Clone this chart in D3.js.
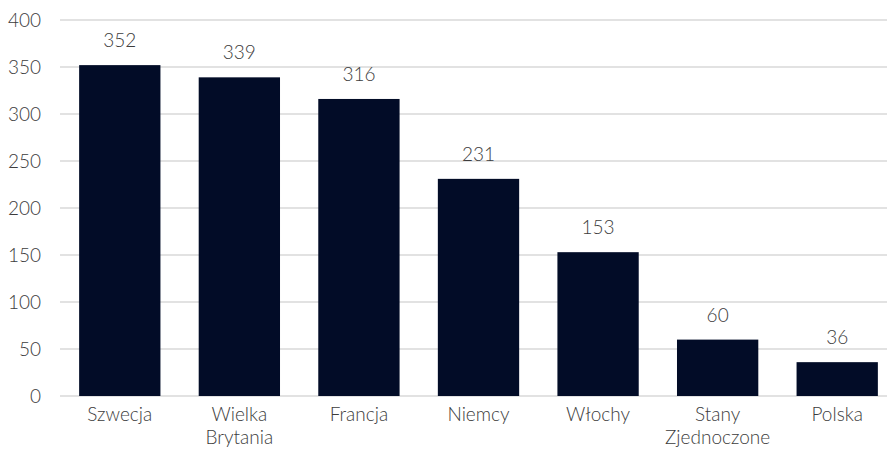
<!DOCTYPE html>
<html>
<head>
<meta charset="utf-8">
<script src="https://cdn.jsdelivr.net/npm/d3@7/dist/d3.min.js"></script>
<style>
  html, body { margin: 0; padding: 0; background: #ffffff; }
</style>
</head>
<body>
<svg id="chart" width="887" height="453"></svg>
<script>
const categories = ["Szwecja", "Wielka Brytania", "Francja", "Niemcy", "Włochy", "Stany Zjednoczone", "Polska"];
const categoryLines = [["Szwecja"], ["Wielka", "Brytania"], ["Francja"], ["Niemcy"], ["Włochy"], ["Stany", "Zjednoczone"], ["Polska"]];
const values = [352, 339, 316, 231, 153, 60, 36];
const yTicks = [0, 50, 100, 150, 200, 250, 300, 350, 400];

const FONT = "Lato, 'Open Sans', sans-serif";
const TEXT_COLOR = "#3c3c3c";

const svg = d3.select("#chart");
const plot = { left: 60, right: 897, top: 20, bottom: 396 };

const x = d3.scaleBand().domain(categories).range([plot.left, plot.right]).paddingInner(0.32).paddingOuter(0.16);
const y = d3.scaleLinear().domain([0, 400]).range([plot.bottom, plot.top]);

// horizontal gridlines
svg.append("g").selectAll("line").data(yTicks).join("line")
  .attr("x1", plot.left).attr("x2", 887)
  .attr("y1", d => y(d)).attr("y2", d => y(d))
  .attr("stroke", "#d9d9d9").attr("stroke-width", 1.5);

const textAttrs = sel => sel
  .attr("font-family", FONT).attr("font-size", 19).attr("font-weight", 300)
  .attr("fill", TEXT_COLOR);

// y tick labels
svg.append("g").selectAll("text").data(yTicks).join("text")
  .call(textAttrs)
  .attr("x", 41).attr("y", d => y(d)).attr("dy", "0.35em")
  .attr("text-anchor", "end")
  .text(d => d);

// bars
svg.append("g").selectAll("rect").data(values).join("rect")
  .attr("x", (d, i) => x(categories[i]))
  .attr("width", x.bandwidth())
  .attr("y", d => y(d))
  .attr("height", d => y(0) - y(d))
  .attr("fill", "#020c27");

// value labels
svg.append("g").selectAll("text").data(values).join("text")
  .call(textAttrs)
  .attr("x", (d, i) => x(categories[i]) + x.bandwidth() / 2)
  .attr("y", d => y(d) - 18)
  .attr("text-anchor", "middle")
  .text(d => d);

// category labels
const cl = svg.append("g").selectAll("text").data(categoryLines).join("text")
  .call(textAttrs)
  .attr("text-anchor", "middle")
  .attr("x", (d, i) => x(categories[i]) + x.bandwidth() / 2)
  .attr("y", 421);
cl.selectAll("tspan").data(d => d).join("tspan")
  .attr("x", function () { return this.parentNode.getAttribute("x"); })
  .attr("dy", (d, i) => i === 0 ? 0 : 23)
  .text(d => d);
</script>
</body>
</html>
